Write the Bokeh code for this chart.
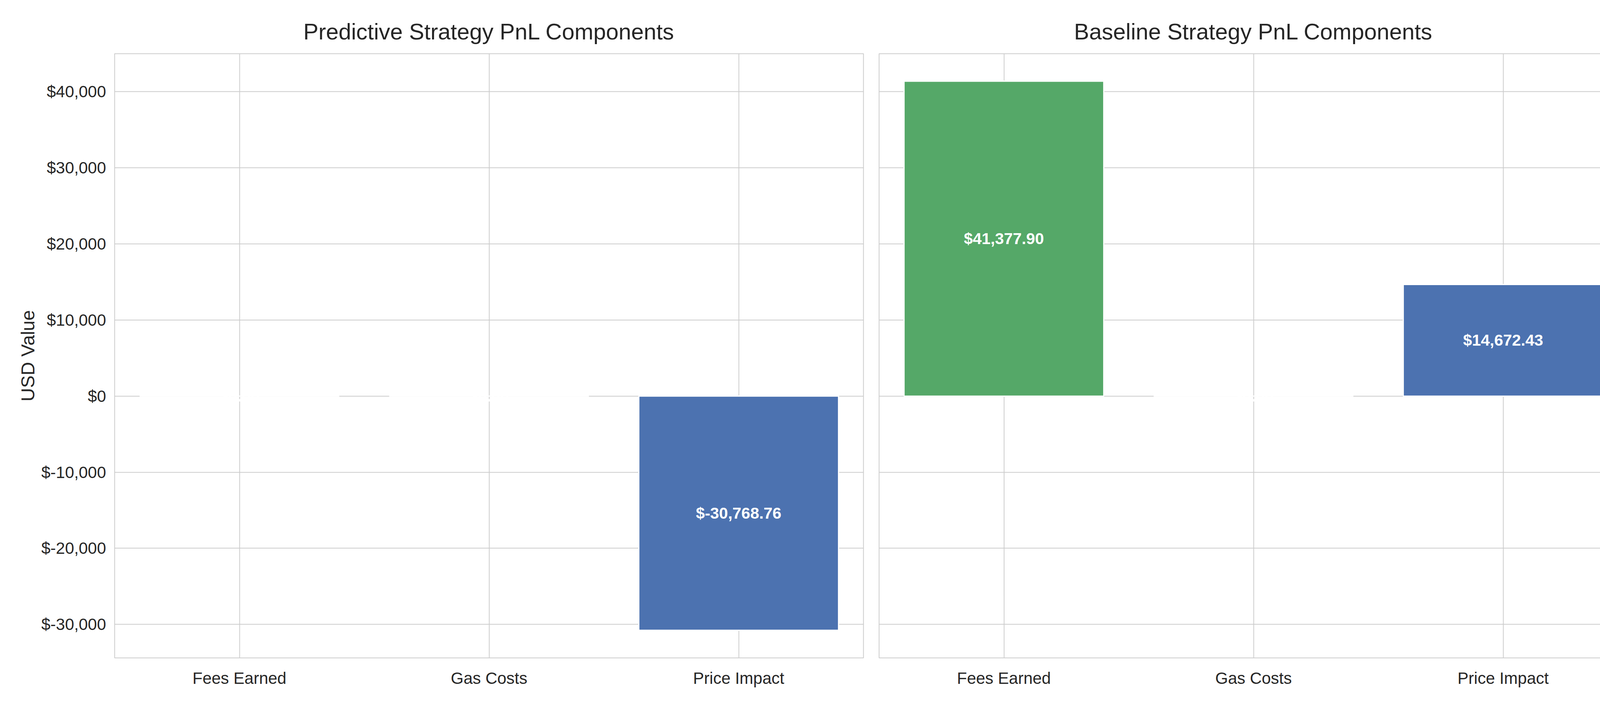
from bokeh.plotting import figure
from bokeh.layouts import row
from bokeh.models import ColumnDataSource, Range1d, CustomJSTickFormatter
from bokeh.embed import file_html
from bokeh.resources import INLINE

components = ["Fees Earned", "Gas Costs", "Price Impact"]
pred_values = [0.0, 0.0, -30768.76]
base_values = [41377.90, 0.0, 14672.43]
bar_colors = ["#55a868", "#c44e52", "#4c72b0"]

FONT = "Liberation Sans"
yr = Range1d(-34400, 45000)


def panel(title, values, width, left_border, show_y):
    p = figure(x_range=components, y_range=yr, width=width, height=1742,
               output_backend="svg", toolbar_location=None, title=title,
               min_border_left=left_border, min_border_right=10,
               min_border_top=20, min_border_bottom=40)
    p.margin = (20, 0, 0, 0)
    labels = ["$" + format(v, ",.2f") for v in values]
    src = ColumnDataSource(dict(x=components, top=values, color=bar_colors,
                                mid=[v / 2 for v in values], label=labels))
    p.vbar(x="x", top="top", bottom=0, width=0.8, fill_color="color",
           line_color="white", line_width=3, source=src)
    p.text(x="x", y="mid", text="label", source=src, text_color="white",
           text_font_style="bold", text_font_size="41px", text_align="center",
           text_baseline="middle", text_font={"value": FONT})
    p.title.text_font = FONT
    p.title.text_font_size = "58px"
    p.title.text_font_style = "normal"
    p.title.align = "center"
    p.title.text_color = "#262626"
    p.title.standoff = 50
    p.outline_line_color = "#cccccc"
    p.outline_line_width = 2
    for ax in (p.xaxis, p.yaxis):
        ax.axis_line_color = None
        ax.major_tick_line_color = None
        ax.minor_tick_line_color = None
        ax.major_label_text_font = FONT
        ax.major_label_text_font_size = "42px"
        ax.major_label_text_color = "#262626"
    p.xaxis.major_label_standoff = 22
    p.yaxis.major_label_standoff = 16
    p.grid.grid_line_color = "#cccccc"
    p.grid.grid_line_width = 2
    p.yaxis.ticker = [-30000, -20000, -10000, 0, 10000, 20000, 30000, 40000]
    p.yaxis.formatter = CustomJSTickFormatter(
        code="return '$' + Math.round(tick).toLocaleString('en-US');")
    if show_y:
        p.yaxis.axis_label = "USD Value"
        p.yaxis.axis_label_text_font = FONT
        p.yaxis.axis_label_text_font_size = "48px"
        p.yaxis.axis_label_text_font_style = "normal"
        p.yaxis.axis_label_text_color = "#262626"
    else:
        p.yaxis.visible = False
    return p


p1 = panel("Predictive Strategy PnL Components", pred_values, 2220, 293, True)
p2 = panel("Baseline Strategy PnL Components", base_values, 1957, 30, False)
p = row(p1, p2)

open("out.html", "w").write(file_html(p, INLINE))
